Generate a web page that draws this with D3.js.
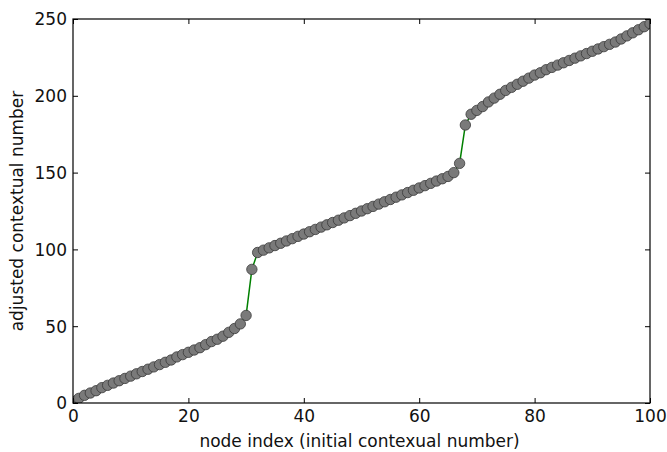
<!DOCTYPE html>
<html>
<head>
<meta charset="utf-8">
<script src="https://cdn.jsdelivr.net/npm/d3@7"></script>
<style>
  body { margin: 0; background: #fff; }
  svg text { font-family: "DejaVu Sans", sans-serif; fill: #111; }
</style>
</head>
<body>
<svg id="chart" width="667" height="452"></svg>
<script>
// adjusted contextual number for each node index 0..100
const segLow = [1, 3, 5, 6.5, 8, 10, 11.5, 13, 14.5, 16, 17.5, 19, 20.5, 22, 23.5, 25,
  26.5, 28, 30, 31.5, 33, 34.5, 36, 38, 40, 41.5, 43.5, 46, 48.5, 51.5, 57]
const segMid = [87, 98, 99.5, 101, 102.5, 104, 105.5, 107, 108.5, 110, 111.5, 113, 114.5,
  116, 117.5, 119, 120.5, 122, 123.5, 125, 126.5, 128, 129.5, 131, 132.5, 134, 135.5,
  137, 138.5, 140, 141.5, 143, 144.5, 146, 147.5, 150, 156]
const segHigh = [181, 188, 190.5, 193, 196, 198.5, 201, 203.5, 205.5, 207.5, 209.5, 211.5,
  213.5, 215, 217, 218.5, 220, 221.5, 223, 224.5, 226, 227.5, 229, 230.5, 232, 233.5,
  235, 237, 239, 241, 243, 245, 247]
const values = segLow.concat(segMid, segHigh)
const xTicks = [0, 20, 40, 60, 80, 100]
const yTicks = [0, 50, 100, 150, 200, 250]

const margin = { left: 73, top: 19, right: 17, bottom: 49 }
const width = 667 - margin.left - margin.right
const height = 452 - margin.top - margin.bottom

const svg = d3.select('#chart')
const g = svg.append('g')
  .attr('transform', `translate(${margin.left},${margin.top})`)

const x = d3.scaleLinear().domain([0, 100]).range([0, width])
const y = d3.scaleLinear().domain([0, 250]).range([height, 0])

svg.append('defs').append('clipPath').attr('id', 'clip')
  .append('rect').attr('width', width).attr('height', height)

const plot = g.append('g').attr('clip-path', 'url(#clip)')

plot.append('path')
  .datum(values)
  .attr('fill', 'none')
  .attr('stroke', '#008000')
  .attr('stroke-width', 1.5)
  .attr('d', d3.line().x((d, i) => x(i)).y(d => y(d)))

plot.selectAll('circle')
  .data(values)
  .join('circle')
  .attr('cx', (d, i) => x(i))
  .attr('cy', d => y(d))
  .attr('r', 5.2)
  .attr('fill', '#7a7a7a')
  .attr('stroke', '#3a3a3a')
  .attr('stroke-width', 0.8)

// inward ticks on all four sides, like the classic matplotlib look
const tickLen = 5
const fontSize = 17
const xAxis = d3.axisBottom(x).tickValues(xTicks).tickSizeInner(-tickLen).tickSizeOuter(0).tickPadding(7)
const yAxis = d3.axisLeft(y).tickValues(yTicks).tickSizeInner(-tickLen).tickSizeOuter(0).tickPadding(6)

g.append('g').attr('transform', `translate(0,${height})`).call(xAxis)
  .call(a => a.select('.domain').remove())
  .call(a => a.selectAll('text').attr('font-size', fontSize).attr('font-family', 'DejaVu Sans'))
g.append('g').call(yAxis)
  .call(a => a.select('.domain').remove())
  .call(a => a.selectAll('text').attr('font-size', fontSize).attr('font-family', 'DejaVu Sans').attr('dy', '0.35em'))
g.append('g').call(d3.axisTop(x).tickValues(xTicks).tickSizeInner(-tickLen).tickSizeOuter(0).tickFormat(''))
  .call(a => a.select('.domain').remove())
g.append('g').attr('transform', `translate(${width},0)`)
  .call(d3.axisRight(y).tickValues(yTicks).tickSizeInner(-tickLen).tickSizeOuter(0).tickFormat(''))
  .call(a => a.select('.domain').remove())

g.append('rect')
  .attr('width', width).attr('height', height)
  .attr('fill', 'none').attr('stroke', '#000').attr('stroke-width', 1.2)

g.append('text')
  .attr('x', width / 2 - 2).attr('y', height + 44)
  .attr('text-anchor', 'middle')
  .attr('font-size', fontSize)
  .text('node index (initial contexual number)')

g.append('text')
  .attr('transform', `translate(${-50},${height / 2}) rotate(-90)`)
  .attr('text-anchor', 'middle')
  .attr('font-size', fontSize)
  .text('adjusted contextual number')
</script>
</body>
</html>
